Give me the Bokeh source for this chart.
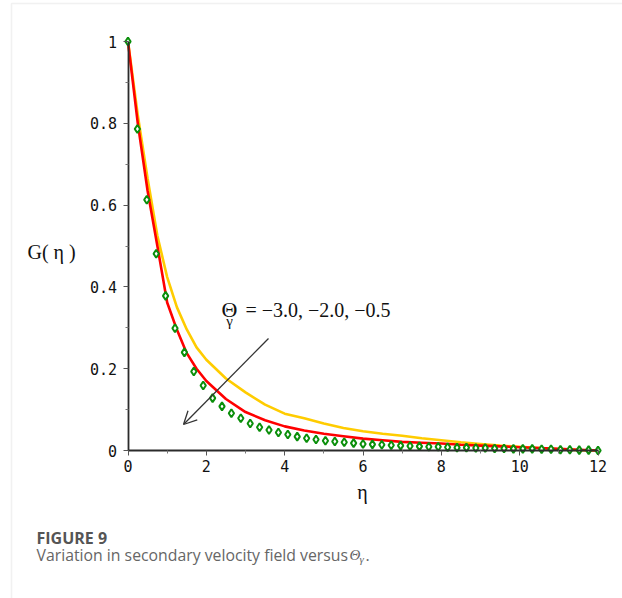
from bokeh.plotting import figure
from bokeh.models import (Range1d, FixedTicker, CustomJSTickFormatter, Label,
                          Arrow, OpenHead, BoxAnnotation)
from bokeh.embed import file_html
from bokeh.resources import INLINE

# secondary velocity profiles G(eta) for three values of Theta_gamma
eta_curve = [0, 0.25, 0.5, 0.75, 1.0, 1.25, 1.5, 1.75, 2.0, 2.5, 3.0, 3.5, 4.0,
             4.5, 5.0, 5.5, 6.0, 6.5, 7.0, 7.5, 8.0, 8.5, 9.0, 9.5, 10.0, 10.5,
             11.0, 11.5, 12.0]
g_theta_m05 = [1.0, 0.82, 0.665, 0.525, 0.424, 0.350, 0.296, 0.252, 0.222,
               0.176, 0.142, 0.112, 0.090, 0.079, 0.066, 0.055, 0.047, 0.041,
               0.036, 0.030, 0.025, 0.020, 0.016, 0.012, 0.009, 0.006, 0.003,
               0.001, 0.0]
g_theta_m20 = [1.0, 0.80, 0.635, 0.500, 0.362, 0.295, 0.238, 0.200, 0.170,
               0.126, 0.094, 0.074, 0.059, 0.049, 0.041, 0.035, 0.029, 0.025,
               0.021, 0.019, 0.017, 0.014, 0.012, 0.010, 0.008, 0.006, 0.004,
               0.002, 0.0]

eta_dots = [0.0, 0.24, 0.48, 0.72, 0.96, 1.20, 1.44, 1.68, 1.92, 2.16, 2.40,
            2.64, 2.88, 3.12, 3.36, 3.60, 3.84, 4.08, 4.32, 4.56, 4.80, 5.04,
            5.28, 5.52, 5.76, 6.00, 6.24, 6.48, 6.72, 6.96, 7.20, 7.44, 7.68,
            7.92, 8.16, 8.40, 8.64, 8.88, 9.12, 9.36, 9.60, 9.84, 10.08, 10.32,
            10.56, 10.80, 11.04, 11.28, 11.52, 11.76, 12.00]
g_theta_m30 = [1.0, 0.786, 0.613, 0.481, 0.378, 0.299, 0.240, 0.193, 0.159,
               0.128, 0.108, 0.091, 0.079, 0.066, 0.057, 0.050, 0.044, 0.039,
               0.034, 0.030, 0.027, 0.024, 0.022, 0.020, 0.018, 0.016, 0.015,
               0.014, 0.013, 0.012, 0.011, 0.010, 0.009, 0.009, 0.008, 0.007,
               0.007, 0.006, 0.006, 0.005, 0.005, 0.004, 0.004, 0.004, 0.003,
               0.003, 0.002, 0.002, 0.001, 0.001, 0.0]

x_ticks = [0, 2, 4, 6, 8, 10, 12]
x_minor = [1, 3, 5, 7, 9, 11]
y_ticks = [0, 0.2, 0.4, 0.6, 0.8, 1.0]
y_minor = [0.1, 0.3, 0.5, 0.7, 0.9]

W, H = 622, 598
# the plotting frame spans the whole canvas; the axes sit at the data origin
ORIGIN_X, ORIGIN_Y = 127.5, 450.0      # canvas pixels of (eta=0, G=0)
PX_PER_ETA, PX_PER_G = 39.17, 409.0

p = figure(width=W, height=H, output_backend="svg", toolbar_location=None,
           x_range=Range1d(-ORIGIN_X / PX_PER_ETA, (W - ORIGIN_X) / PX_PER_ETA),
           y_range=Range1d(-(H - ORIGIN_Y) / PX_PER_G, ORIGIN_Y / PX_PER_G),
           min_border=0)
p.outline_line_color = None
p.xgrid.visible = False
p.ygrid.visible = False
p.background_fill_color = "white"
p.border_fill_color = "white"

tick_font = "DejaVu Sans Mono"
for ax, ticks, minor in ((p.xaxis[0], x_ticks, x_minor), (p.yaxis[0], y_ticks, y_minor)):
    ax.fixed_location = 0
    ax.ticker = FixedTicker(ticks=ticks, minor_ticks=minor)
    ax.axis_line_color = "#2b2b2b"
    ax.axis_line_width = 1.8
    ax.major_tick_line_color = "#555555"
    ax.minor_tick_line_color = "#777777"
    ax.major_tick_in = 0
    ax.major_tick_out = 5
    ax.minor_tick_in = 0
    ax.minor_tick_out = 3
    ax.major_label_text_font = tick_font
    ax.major_label_text_font_size = "15px"
    ax.major_label_text_color = "#111111"
p.xaxis.bounds = (0, 12)
p.yaxis.bounds = (0, 1)
p.xaxis.major_label_standoff = 4
p.yaxis.major_label_standoff = 6
p.yaxis.formatter = CustomJSTickFormatter(code="return String(Math.round(tick*10)/10);")

p.line(eta_curve, g_theta_m05, line_color="#ffcc00", line_width=2.6)
p.line(eta_curve, g_theta_m20, line_color="#ff0000", line_width=2.6)
p.scatter(eta_dots, g_theta_m30, marker="diamond", size=8, fill_color="white",
          line_color="#0b8f0b", line_width=2)

BASELINE_SHIFT = 6   # labels sit a little below the requested baseline


def sx(X):
    return X


def sy(Y):
    return H - Y + BASELINE_SHIFT


def text(x, y, s, size, font="Liberation Serif", color="#111111", style="normal",
         align="left", baseline="alphabetic"):
    p.add_layout(Label(x=sx(x), y=sy(y), x_units="screen", y_units="screen", text=s,
                       text_font=font, text_font_size=size, text_color=color,
                       text_font_style=style, text_align=align,
                       text_baseline=baseline))


# axis titles
text(362, 497, "η", "20px", align="center")
text(27, 257, "G( η )", "20px")

# parameter annotation with arrow
text(221, 315, "Θ", "22px")
text(229, 326, "γ", "15px", align="center")
text(245, 315, "= −3.0, −2.0, −0.5", "20px")
p.add_layout(Arrow(x_start=268, y_start=H - 338, x_end=183, y_end=H - 424,
                   start_units="screen", end_units="screen",
                   line_color="#333333", line_width=1.3,
                   end=OpenHead(size=13, line_color="#333333", line_width=1.3)))

# caption
text(36, 543, "FIGURE 9", "16px", font="Open Sans", color="#555555", style="bold")
text(36, 560, "Variation in secondary velocity field versus ", "15.8px",
     font="Open Sans", color="#666666")
text(349, 560, "Θ", "15px", font="Liberation Serif", color="#666666", style="italic")
text(359, 564, "γ", "11px", font="Liberation Serif", color="#666666", style="italic")
text(365, 560, ".", "16px", font="Open Sans", color="#666666")

# panel border
p.add_layout(BoxAnnotation(left=11, right=W + 50, top=H - 3, bottom=-50,
                           left_units="screen", right_units="screen",
                           top_units="screen", bottom_units="screen",
                           fill_alpha=0, line_color="#cfcfcf", line_width=1.5))

open("out.html", "w").write(file_html(p, INLINE))
